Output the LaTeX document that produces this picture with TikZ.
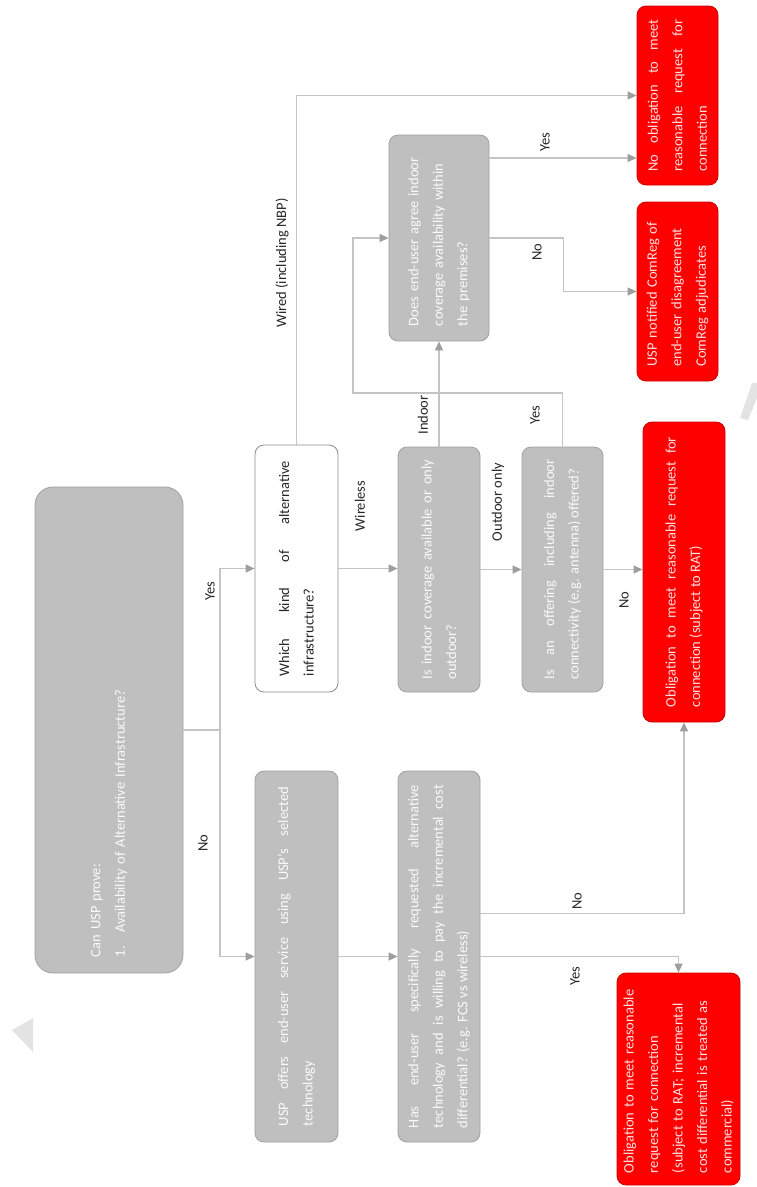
\documentclass[tikz,border=0pt]{standalone}
\usepackage{fontspec}
\setmainfont{Carlito}
\usetikzlibrary{arrows.meta,calc}
\definecolor{boxgray}{HTML}{BFBFBF}
\definecolor{edgegray}{HTML}{A0A0A0}
\definecolor{linegray}{HTML}{C4C4C4}
\definecolor{alertred}{HTML}{FF0000}

\begin{document}
\begin{tikzpicture}[x=1pt,y=-1pt, >={Triangle[length=9pt,width=8pt,color=black!38]},
  every node/.style={font=\fontsize{14.5}{24.5}\selectfont,rotate=90,inner sep=0pt},
  box/.style={draw=edgegray,fill=boxgray,rounded corners=9pt,text=white!96!gray,line width=0.8pt},
  qbox/.style={draw=black!45,fill=white,rounded corners=9pt,text=black!85,line width=0.8pt},
  redbox/.style={draw=red!80!black,fill=alertred,rounded corners=9pt,text=white!88!red,line width=0.8pt},
  lab/.style={text=black!85},
  arrow/.style={->,draw=linegray,line width=1.3pt}, link/.style={draw=linegray,line width=1.3pt}]
\useasboundingbox (0,0) rectangle (757,1187);
\fill[gray!22] (12,1030) -- (33,1018) -- (33,1052) -- cycle;
\fill[gray!22] (740,418) -- (752,383) -- (757,383) -- (757,398) -- (748,420) -- cycle;
\node[box,rounded corners=18pt,minimum width=486pt,minimum height=148pt,text width=454pt,align=left] (prove) at (109,730) {Can USP prove:\\1.\hspace{0.9em}Availability of Alternative Infrastructure?};
\node[qbox,minimum width=247pt,minimum height=83pt,text width=215pt,align=justify] (kind) at (296.5,568.5) {Which kind of alternative\linebreak infrastructure?};
\node[box,minimum width=371pt,minimum height=83pt,text width=339pt,align=justify] (offer) at (296.5,956.5) {USP offers end-user service using USP's selected\linebreak technology};
\node[box,minimum width=245pt,minimum height=82pt,text width=220pt,align=justify] (cover) at (439,569.5) {Is indoor coverage available or only\linebreak outdoor?};
\node[box,minimum width=245pt,minimum height=81pt,text width=220pt,align=justify] (antenna) at (562.5,569.5) {Is an offering including indoor\linebreak connectivity (e.g. antenna) offered?};
\node[box,minimum width=371pt,minimum height=82pt,text width=343pt,align=justify] (requested) at (439,956.5) {Has end-user specifically requested alternative\linebreak technology and is willing to pay the incremental cost\linebreak differential? (e.g. FCS vs wireless)};
\node[box,minimum width=206pt,minimum height=100pt,text width=176pt,align=left] (agree) at (439,238) {Does end-user agree indoor\\coverage availability within\\the premises?};
\node[redbox,minimum width=179pt,minimum height=81pt,text width=152pt,align=justify] (noobl) at (677.5,95.5) {No obligation to meet\linebreak reasonable request for\linebreak connection};
\node[redbox,minimum width=179pt,minimum height=81pt,text width=150pt,align=left] (notif) at (677.5,291.5) {USP notified ComReg of\\end-user disagreement\\ComReg adjudicates};
\node[redbox,minimum width=300pt,minimum height=82pt,text width=270pt,align=justify] (oblrat) at (684,572) {Obligation to meet reasonable request for\linebreak connection (subject to RAT)};
\node[redbox,minimum width=212pt,minimum height=123pt,text width=188pt,align=left] (oblcom) at (678.5,1079) {Obligation to meet reasonable\\request for connection\\(subject to RAT; incremental\\cost differential is treated as\\commercial)};
\coordinate (split) at (220,730); \coordinate (back) at (353,393);
\coordinate (agreeyes) at ([yshift=80pt]agree.south); \coordinate (hasno) at ([yshift=43pt]requested.south);
\draw[link] (prove.south) -- (split); \draw[arrow] (split) |- (kind.north); \draw[arrow] (split) |- (offer.north);
\draw[arrow] (kind.east) |- (noobl.north); \draw[arrow] (kind.south) -- (kind.south -| cover.north);
\draw[arrow] (cover.east) -- (agree.west); \draw[arrow] (cover.south) -- (antenna.north);
\draw[arrow] (antenna.east) |- (back) |- (agree.north); \draw[arrow] (antenna.south) -- (antenna.south -| oblrat.north);
\draw[arrow] (agreeyes) -- (agreeyes -| noobl.north); \draw[arrow] (agree.south) -- ++(74,0) |- (notif.north);
\draw[arrow] (offer.south) -- (requested.north); \draw[arrow] (hasno) -| (oblrat.west); \draw[arrow] (requested.south) -| (oblcom.east);
\node[lab] (lyes) at (210,591) {Yes}; \node[lab] (lno) at (203,843) {No};
\node[lab] (lwired) at (282,263) {Wired (including NBP)}; \node[lab] (lwireless) at (360,506) {Wireless};
\node[lab] (lindoor) at (423,415) {Indoor}; \node[lab] (loutdoor) at (498,502) {Outdoor only};
\node[lab] (lantyes) at (535,415) {Yes}; \node[lab] (lantno) at (624,600) {No};
\node[lab] (lagreeyes) at (545,142) {Yes}; \node[lab] (lagreeno) at (537,252) {No};
\node[lab] (lhasno) at (577,901) {No}; \node[lab] (lhasyes) at (575,976) {Yes};
\end{tikzpicture}
\end{document}
